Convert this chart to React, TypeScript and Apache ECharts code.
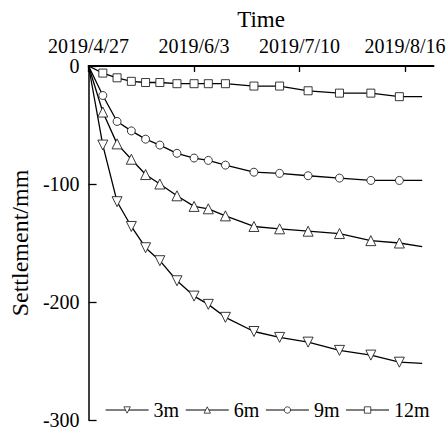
import React, { useEffect, useRef } from "react";
import * as echarts from "echarts";

// days since 2019/4/27
const days = [0, 5, 10, 15, 20, 25, 31, 37, 42, 48, 58, 67, 77, 88, 99, 109, 117];
const s3m = [0, -67, -115, -136, -154, -165, -182, -195, -202, -213, -225, -230, -234, -241, -245, -251, -252];
const s6m = [0, -39, -66, -79, -92, -100, -110, -119, -121, -127, -136, -138, -140, -142, -148, -150, -153];
const s9m = [0, -25, -47, -55, -62, -67, -74, -78, -80, -84, -90, -91, -93, -95, -97, -97, -97];
const s12m = [0, -6, -10, -13, -14, -14, -15, -15, -15, -15, -17, -17, -21, -23, -23, -26, -26];

const tickDays = [0, 37, 74, 111];
const tickLabels = ["2019/4/27", "2019/6/3", "2019/7/10", "2019/8/16"];
const yTicks = [0, -100, -200, -300];

const FONT = "'Liberation Serif', 'Times New Roman', serif";
const DOWN_TRI = "path://M0,0 L10,0 L5,9 Z";

export default function App() {
  const ref = useRef<HTMLDivElement>(null);
  useEffect(() => {
    if (!ref.current) return;
    const chart = echarts.init(ref.current, null, { renderer: "svg" });
    const mk = (name: string, vals: number[], symbol: string, size: number) => ({
      name,
      type: "line",
      symbol,
      symbolSize: size,
      showAllSymbol: true,
      lineStyle: { color: "#000", width: 1.3 },
      itemStyle: { color: "#fff", borderColor: "#222", borderWidth: 0.9 },
      data: days.map((d, i) => ({
        value: [d, vals[i]],
        symbol: i === 0 || i === days.length - 1 ? "none" : symbol,
      })),
      z: 3,
    });
    chart.setOption({
      animation: false,
      backgroundColor: "#fff",
      grid: { left: 81, top: 66, right: 10, bottom: 13, containLabel: false },
      legend: {
        left: 100,
        top: 395,
        itemWidth: 43,
        itemHeight: 8,
        itemGap: 6,
        itemStyle: { color: "#fff", borderColor: "#000", borderWidth: 0.7 },
        lineStyle: { color: "#000", width: 1.2 },
        textStyle: { fontFamily: FONT, fontSize: 20, color: "#000" },
        data: ["3m", "6m", "9m", "12m"],
      },
      xAxis: {
        type: "value",
        position: "top",
        min: 0,
        max: 121,
        name: "Time",
        nameLocation: "middle",
        nameGap: 35,
        nameTextStyle: { fontFamily: FONT, fontSize: 23, color: "#000" },
        splitLine: { show: false },
        axisLine: { show: true, onZero: false, lineStyle: { color: "#000", width: 1.8 } },
        axisTick: { show: true, inside: true, length: 6, customValues: tickDays, lineStyle: { color: "#000", width: 1.3 } },
        axisLabel: {
          customValues: tickDays,
          margin: 10,
          fontFamily: FONT,
          fontSize: 20,
          color: "#000",
          formatter: (v: number) => {
            const i = tickDays.indexOf(v);
            return i >= 0 ? tickLabels[i] : "";
          },
        },
      },
      yAxis: {
        type: "value",
        min: -300,
        max: 0,
        interval: 100,
        name: "Settlement/mm",
        nameLocation: "middle",
        nameGap: 49,
        nameTextStyle: { fontFamily: FONT, fontSize: 24, color: "#000" },
        splitLine: { show: false },
        axisLine: { show: true, onZero: false, lineStyle: { color: "#000", width: 1.5 } },
        axisTick: { show: true, inside: true, length: 8, customValues: yTicks, lineStyle: { color: "#000", width: 1.3 } },
        axisLabel: { margin: 9, fontFamily: FONT, fontSize: 20, color: "#000" },
      },
      series: [
        mk("3m", s3m, DOWN_TRI, 10),
        mk("6m", s6m, "triangle", 10),
        mk("9m", s9m, "circle", 8),
        mk("12m", s12m, "rect", 8),
      ],
    });
    return () => chart.dispose();
  }, []);
  return <div ref={ref} style={{ width: 448, height: 433, position: "absolute", left: 0, top: 0 }} />;
}
